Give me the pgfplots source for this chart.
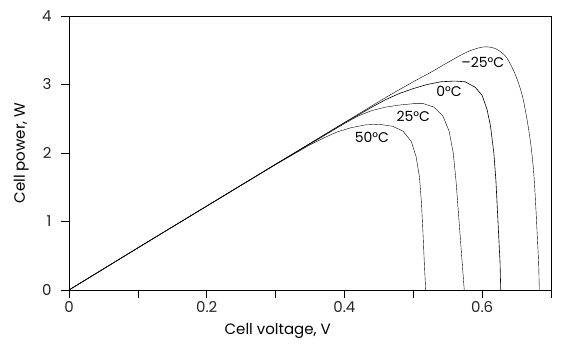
\documentclass[border=0pt]{standalone}
\usepackage{fontspec}
\setmainfont{Poppins}
\usepackage{pgfplots}
\pgfplotsset{compat=1.18}
\begin{document}
\begin{tikzpicture}
\useasboundingbox (-69pt,-55pt) rectangle (496pt,290pt);
\begin{axis}[
  at={(0,0)}, anchor=south west,
  scale only axis, width=482pt, height=274pt,
  xmin=0, xmax=0.7, ymin=0, ymax=4,
  xtick={0,0.1,0.2,0.3,0.4,0.5,0.6,0.7},
  xticklabels={0,,0.2,,0.4,,0.6,},
  ytick={0,1,2,3,4},
  yticklabels={0,1,2,3,4},
  tick align=outside, xtick pos=bottom, ytick pos=left,
  major tick length=8pt,
  tick style={black, line width=0.6pt},
  axis line style={line width=0.7pt},
  /pgf/number format/assume math mode=true,
  ticklabel style={font=\fontsize{15}{16}\selectfont, text=black!85},
  yticklabel style={xshift=-6pt},
  xlabel={Cell voltage, V},
  ylabel={Cell power, W},
  label style={font=\fontsize{15}{16}\selectfont},
  xlabel style={at={(axis description cs:0.433,0)}, anchor=base, yshift=-44pt},
  ylabel style={at={(axis description cs:0,0.5)}, anchor=base, yshift=44pt},
  clip=false,
  cycle list={{black, no markers, line width=0.6pt, smooth, tension=0.5}},
]
% 50 C
\addplot coordinates {(0,0) (0.1,0.615) (0.2,1.225) (0.3,1.83) (0.35,2.12) (0.37,2.22) (0.39,2.31) (0.41,2.37) (0.43,2.41) (0.45,2.42) (0.47,2.39) (0.485,2.32) (0.497,2.17) (0.504,1.95) (0.509,1.65) (0.512,1.25) (0.514,0.85) (0.516,0.4) (0.518,0)};
% 25 C
\addplot coordinates {(0,0) (0.1,0.615) (0.2,1.225) (0.3,1.835) (0.37,2.25) (0.40,2.43) (0.42,2.54) (0.44,2.62) (0.46,2.67) (0.48,2.70) (0.50,2.72) (0.515,2.72) (0.53,2.67) (0.543,2.54) (0.552,2.32) (0.558,2.0) (0.562,1.6) (0.565,1.2) (0.568,0.8) (0.571,0.4) (0.574,0)};
% 0 C
\addplot coordinates {(0,0) (0.1,0.615) (0.2,1.225) (0.3,1.835) (0.4,2.44) (0.44,2.67) (0.46,2.78) (0.48,2.87) (0.50,2.94) (0.52,3.0) (0.54,3.04) (0.56,3.05) (0.575,3.04) (0.59,2.96) (0.60,2.84) (0.607,2.64) (0.612,2.4) (0.617,2.0) (0.62,1.6) (0.622,1.2) (0.624,0.8) (0.626,0.4) (0.627,0)};
% -25 C
\addplot coordinates {(0,0) (0.1,0.615) (0.2,1.225) (0.3,1.835) (0.4,2.445) (0.46,2.81) (0.50,3.04) (0.524,3.17) (0.548,3.31) (0.573,3.45) (0.59,3.52) (0.605,3.55) (0.62,3.52) (0.635,3.40) (0.648,3.15) (0.658,2.85) (0.665,2.5) (0.671,2.1) (0.675,1.7) (0.678,1.2) (0.68,0.8) (0.682,0.4) (0.683,0)};
\node[font=\fontsize{14}{15}\selectfont] at (axis cs:0.601,3.33) {–25°C};
\node[font=\fontsize{14}{15}\selectfont] at (axis cs:0.552,2.90) {0°C};
\node[font=\fontsize{14}{15}\selectfont] at (axis cs:0.500,2.53) {25°C};
\node[font=\fontsize{14}{15}\selectfont] at (axis cs:0.440,2.23) {50°C};
\end{axis}
\end{tikzpicture}
\end{document}
